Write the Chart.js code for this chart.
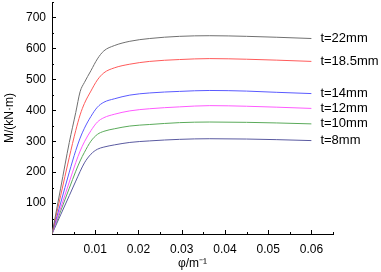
<!DOCTYPE html>
<html>
<head>
<meta charset="utf-8">
<script src="https://cdn.jsdelivr.net/npm/chart.js@4.4.0/dist/chart.umd.min.js"></script>
<style>
  body { margin: 0; background: #fff; }
  #chart { display: block; }
</style>
</head>
<body>
<canvas id="chart" width="381" height="272"></canvas>
<script>
// curvature values (x axis) shared by all curves
const phi = [0, 0.002, 0.004, 0.0055, 0.0065, 0.0075, 0.009, 0.0105, 0.012, 0.0144, 0.018, 0.0226, 0.0295, 0.0365, 0.045, 0.052, 0.06];

// moment values for each plate thickness
const m22 = [0, 148, 296, 393, 460, 490, 528, 566, 592, 609, 623, 632, 639, 641, 639, 636, 632];
const m185 = [0, 124, 248, 335, 385, 422, 462, 498, 521, 537, 549, 558, 564, 567, 565, 562, 558];
const m14 = [0, 100, 200, 270, 310, 342, 380, 410, 426, 437, 449, 456, 461, 464, 462, 458, 454];
const m12 = [0, 84, 168, 231, 268, 298, 334, 362, 376, 387, 398, 405, 411, 415, 413, 410, 406];
const m10 = [0, 74, 148, 203, 236, 264, 300, 322, 332, 340, 349, 354, 360, 362, 361, 359, 356];
const m8 = [0, 62, 124, 171, 202, 230, 258, 274, 281, 288, 296, 301, 306, 308, 307, 305, 302];

const seriesNames = ['t=22mm', 't=18.5mm', 't=14mm', 't=12mm', 't=10mm', 't=8mm'];
const seriesValues = [m22, m185, m14, m12, m10, m8];
const seriesColors = ['#707070', '#ff5a5a', '#5a5aff', '#ff5aff', '#5aaa5a', '#5a5aa0'];

const yTickLabels = [100, 200, 300, 400, 500, 600, 700];
const xTickLabels = [0.01, 0.02, 0.03, 0.04, 0.05, 0.06];

const FONT = 'Arial, "Liberation Sans", sans-serif';

// inward major/minor ticks drawn from the scales' own tick list
const inwardTicks = {
  id: 'inwardTicks',
  afterDraw(chart) {
    const ctx = chart.ctx;
    const area = chart.chartArea;
    const xs = chart.scales.x, ys = chart.scales.y;
    ctx.save();
    ctx.strokeStyle = '#000';
    ctx.lineWidth = 1;
    ctx.beginPath();
    ys.ticks.forEach(t => {
      if (t.value === 0) return;
      const y = Math.round(ys.getPixelForValue(t.value)) + 0.5;
      const len = t.value % 100 === 0 ? 4 : 2;
      ctx.moveTo(area.left, y);
      ctx.lineTo(area.left + len, y);
    });
    xs.ticks.forEach(t => {
      const k = Math.round(t.value * 1000);
      if (k === 0) return;
      const x = Math.round(xs.getPixelForValue(t.value)) + 0.5;
      const len = k % 10 === 0 ? 4 : 2;
      ctx.moveTo(x, area.bottom);
      ctx.lineTo(x, area.bottom - len);
    });
    ctx.stroke();
    ctx.restore();
  }
};

// labels at the right end of each curve
const endLabels = {
  id: 'endLabels',
  afterDatasetsDraw(chart) {
    const ctx = chart.ctx;
    ctx.save();
    ctx.font = '13px ' + FONT;
    ctx.fillStyle = '#000';
    ctx.textBaseline = 'middle';
    ctx.textAlign = 'left';
    chart.data.datasets.forEach((ds, i) => {
      const pts = chart.getDatasetMeta(i).data;
      const last = pts[pts.length - 1];
      ctx.fillText(ds.label, last.x + 9, last.y);
    });
    ctx.restore();
  }
};

const datasets = seriesNames.map((name, i) => ({
  label: name,
  data: phi.map((p, j) => ({ x: p, y: seriesValues[i][j] })),
  borderColor: seriesColors[i],
  borderWidth: 1,
  pointRadius: 0,
  fill: false,
  cubicInterpolationMode: 'monotone'
}));

new Chart(document.getElementById('chart').getContext('2d'), {
  type: 'line',
  data: { datasets: datasets },
  options: {
    responsive: false,
    animation: false,
    layout: { padding: { left: 0, right: 48, top: 2, bottom: 0 } },
    plugins: {
      legend: { display: false },
      tooltip: { enabled: false }
    },
    scales: {
      x: {
        type: 'linear',
        min: 0,
        max: 0.065,
        afterFit(scale) {
          scale.height = 38;
          scale.paddingLeft = 0;
          scale.paddingRight = 0;
        },
        grid: { display: true, drawOnChartArea: false, drawTicks: false },
        border: { display: true, color: '#000', width: 1 },
        ticks: {
          stepSize: 0.005,
          autoSkip: false,
          maxRotation: 0,
          padding: 8,
          color: '#000',
          font: { family: FONT, size: 12 },
          callback(v) {
            const hit = xTickLabels.find(t => Math.abs(t - v) < 1e-9);
            return hit !== undefined ? hit.toFixed(2) : '';
          }
        },
        title: {
          display: true,
          text: 'φ/m⁻¹',
          color: '#000',
          font: { family: FONT, size: 12 },
          padding: { top: 0, bottom: 1 }
        }
      },
      y: {
        type: 'linear',
        min: 0,
        max: 750,
        afterFit(scale) {
          scale.width = 52;
          scale.paddingTop = 0;
          scale.paddingBottom = 0;
        },
        grid: { display: true, drawOnChartArea: false, drawTicks: false },
        border: { display: true, color: '#000', width: 1 },
        ticks: {
          stepSize: 50,
          autoSkip: false,
          padding: 6,
          color: '#000',
          font: { family: FONT, size: 12 },
          callback(v) {
            return yTickLabels.includes(v) ? String(v) : '';
          }
        },
        title: {
          display: true,
          text: 'M/(kN·m)',
          color: '#000',
          font: { family: FONT, size: 12 },
          padding: { top: 2, bottom: 0 }
        }
      }
    }
  },
  plugins: [inwardTicks, endLabels]
});
</script>
</body>
</html>
